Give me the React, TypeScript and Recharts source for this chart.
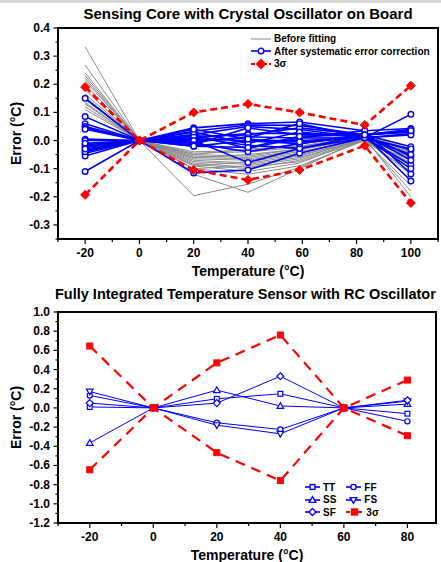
import { LineChart, Line, XAxis, YAxis, ReferenceArea, Label } from 'recharts';

const FONT = 'Arial, "Liberation Sans", Helvetica, sans-serif';
const BLUE = '#0000ff';
const RED = '#ff0000';
const GRAY = '#8c8c8c';

// ---- top panel: crystal oscillator ----
const topTemps = [-20, 0, 20, 40, 59, 83, 100];

const beforeFitting = [
  [0.333, 0, -0.12, -0.184, -0.1, 0.01, -0.2],
  [0.268, 0, -0.196, -0.155, -0.095, 0.005, -0.18],
  [0.24, 0, -0.1, -0.12, -0.09, 0.0, -0.16],
  [0.23, 0, -0.09, -0.11, -0.08, 0.01, -0.14],
  [0.221, 0, -0.085, -0.1, -0.07, 0.005, -0.12],
  [0.213, 0, -0.08, -0.095, -0.075, 0.0, -0.11],
  [0.2, 0, -0.1, -0.09, -0.065, 0.01, -0.1],
  [0.18, 0, -0.075, -0.085, -0.06, 0.005, -0.09],
  [0.165, 0, -0.07, -0.08, -0.055, 0.01, -0.08],
  [0.155, 0, -0.09, -0.075, -0.05, 0.0, -0.07],
  [0.145, 0, -0.065, -0.07, -0.045, 0.01, -0.065],
  [0.135, 0, -0.06, -0.065, -0.04, 0.005, -0.06],
  [0.13, 0, -0.055, -0.06, -0.035, 0.015, -0.05],
  [0.12, 0, -0.05, -0.055, -0.03, 0.01, -0.045],
  [0.11, 0, -0.06, -0.05, -0.03, 0.005, -0.04],
  [0.06, 0, -0.045, -0.04, -0.025, 0.01, -0.035],
  [0.05, 0, -0.04, -0.035, -0.02, 0.015, -0.03],
  [0.045, 0, -0.05, -0.03, -0.02, 0.01, -0.06],
];

const afterCorrection = [
  [0.15, 0, -0.115, -0.105, -0.045, 0.01, 0.093],
  [0.085, 0, 0.0, -0.078, -0.028, 0.02, -0.144],
  [0.06, 0, 0.045, 0.06, 0.066, 0.035, 0.043],
  [0.05, 0, 0.033, 0.055, 0.054, 0.02, 0.034],
  [0.045, 0, 0.021, 0.05, 0.039, 0.01, 0.025],
  [0.005, 0, 0.009, 0.025, 0.025, 0.02, -0.022],
  [-0.015, 0, -0.005, 0.013, 0.009, 0.01, -0.034],
  [-0.025, 0, -0.02, -0.001, -0.011, 0.02, -0.056],
  [-0.035, 0, 0.01, -0.017, -0.028, 0.01, -0.087],
  [-0.045, 0, 0.02, -0.028, 0.009, 0.035, -0.119],
  [-0.055, 0, -0.01, -0.04, -0.011, 0.02, 0.03],
  [-0.11, 0, 0.005, 0.0, 0.0, 0.01, -0.03],
  [0.0, 0, 0.015, 0.02, 0.045, 0.02, 0.04],
  [-0.02, 0, 0.0, 0.01, 0.06, 0.01, -0.05],
  [-0.04, 0, -0.015, 0.045, 0.02, 0.02, -0.07],
  [0.04, 0, 0.03, -0.01, 0.03, 0.01, 0.02],
  [-0.01, 0, 0.04, 0.005, -0.005, 0.01, -0.1],
  [-0.03, 0, -0.02, -0.025, 0.015, 0.02, 0.035],
];

const sigmaUpperTop = [0.19, 0, 0.1, 0.13, 0.1, 0.055, 0.195];
const sigmaLowerTop = [-0.193, 0, -0.105, -0.14, -0.105, -0.018, -0.222];

const topXTicks = [-30, -20, -10, 0, 10, 20, 30, 40, 50, 60, 70, 80, 90, 100, 110];
const topYTicks = [-0.35, -0.3, -0.25, -0.2, -0.15, -0.1, -0.05, 0, 0.05, 0.1, 0.15, 0.2, 0.25, 0.3, 0.35, 0.4];

// ---- bottom panel: RC oscillator ----
const bottomTemps = [-20, 0, 20, 40, 60, 80];
const tt = [0.01, 0, 0.095, 0.147, 0, -0.06];
const ff = [0.13, 0, -0.155, -0.225, 0, -0.14];
const ss = [-0.365, 0, 0.185, 0.02, 0, 0.04];
const fs = [0.17, 0, -0.18, -0.27, 0, 0.07];
const sf = [0.05, 0, 0.05, 0.33, 0, 0.08];
const sigmaUpperBottom = [0.645, 0, 0.47, 0.76, 0, 0.29];
const sigmaLowerBottom = [-0.645, 0, -0.467, -0.758, 0, -0.29];

const bottomXTicks = [-30, -20, -10, 0, 10, 20, 30, 40, 50, 60, 70, 80];
const bottomYTicks = [-1.2, -1.1, -1.0, -0.9, -0.8, -0.7, -0.6, -0.5, -0.4, -0.3, -0.2, -0.1, 0, 0.1, 0.2, 0.3, 0.4, 0.5, 0.6, 0.7, 0.8, 0.9, 1.0];

const topRows = topTemps.map((t, i) => {
  const row: Record<string, number> = { t, up: sigmaUpperTop[i], lo: sigmaLowerTop[i] };
  beforeFitting.forEach((s, k) => (row['g' + k] = s[i]));
  afterCorrection.forEach((s, k) => (row['b' + k] = s[i]));
  return row;
});

const bottomRows = bottomTemps.map((t, i) => ({
  t,
  tt: tt[i],
  ff: ff[i],
  ss: ss[i],
  fs: fs[i],
  sf: sf[i],
  up: sigmaUpperBottom[i],
  lo: sigmaLowerBottom[i],
}));

// ---- markers ----
type Kind = 'circle' | 'square' | 'up' | 'down' | 'diamond';

function Marker({ kind, cx, cy, s, stroke, fill, sw }: any) {
  if (kind === 'circle') return <circle cx={cx} cy={cy} r={s} fill={fill} stroke={stroke} strokeWidth={sw} />;
  if (kind === 'square')
    return <rect x={cx - s} y={cy - s} width={2 * s} height={2 * s} fill={fill} stroke={stroke} strokeWidth={sw} />;
  if (kind === 'up')
    return (
      <polygon
        points={`${cx},${cy - s * 1.1} ${cx - s * 1.1},${cy + s * 0.8} ${cx + s * 1.1},${cy + s * 0.8}`}
        fill={fill}
        stroke={stroke}
        strokeWidth={sw}
      />
    );
  if (kind === 'down')
    return (
      <polygon
        points={`${cx},${cy + s * 1.1} ${cx - s * 1.1},${cy - s * 0.8} ${cx + s * 1.1},${cy - s * 0.8}`}
        fill={fill}
        stroke={stroke}
        strokeWidth={sw}
      />
    );
  return (
    <polygon
      points={`${cx},${cy - s * 1.25} ${cx + s * 1.25},${cy} ${cx},${cy + s * 1.25} ${cx - s * 1.25},${cy}`}
      fill={fill}
      stroke={stroke}
      strokeWidth={sw}
    />
  );
}

const dotFn = (kind: Kind, s: number, stroke: string, fill: string, sw: number) => (p: any) => {
  if (p.cx == null || p.cy == null) return <g key={p.key ?? p.index} />;
  return (
    <g key={p.key ?? p.index}>
      <Marker kind={kind} cx={p.cx} cy={p.cy} s={s} stroke={stroke} fill={fill} sw={sw} />
    </g>
  );
};

// ---- ticks (major + minor) ----
const TS = 5;
const TM = 3;

const makeYTick = (isMajor: (v: number) => boolean) => (p: any) => {
  const v = p.payload.value;
  const major = isMajor(v);
  const ax = p.x + TS + TM;
  return (
    <g>
      <line x1={ax} x2={ax - (major ? 4.5 : 2.5)} y1={p.y} y2={p.y} stroke="#000" strokeWidth={1.2} />
      {major && (
        <text x={p.x} y={p.y} dy={4} textAnchor="end" fontSize={12} fontWeight="bold" fontFamily={FONT} fill="#000">
          {v.toFixed(1)}
        </text>
      )}
    </g>
  );
};

const makeXTick = (isMajor: (v: number) => boolean) => (p: any) => {
  const v = p.payload.value;
  const major = isMajor(v);
  const ay = p.y - TS - TM;
  return (
    <g>
      <line x1={p.x} x2={p.x} y1={ay} y2={ay + (major ? 5 : 3)} stroke="#000" strokeWidth={1.2} />
      {major && (
        <text x={p.x} y={p.y} dy={10} textAnchor="middle" fontSize={12} fontWeight="bold" fontFamily={FONT} fill="#000">
          {v}
        </text>
      )}
    </g>
  );
};

const topYMajor = (v: number) => Math.abs(v * 10 - Math.round(v * 10)) < 1e-6;
const bottomYMajor = (v: number) => Math.abs(v * 5 - Math.round(v * 5)) < 1e-6;
const xMajor = (v: number) => v % 20 === 0;

const axisTitle = { fontSize: 14, fontWeight: 'bold' as const, fontFamily: FONT, fill: '#000' };

function LegendRow({ kind, color, dashed, filled, text, w = 20, s = 3 }: any) {
  return (
    <div style={{ display: 'flex', alignItems: 'center', height: 12.6 }}>
      <svg width={w} height={12} style={{ display: 'block' }}>
        <line
          x1={0}
          x2={w}
          y1={6}
          y2={6}
          stroke={color}
          strokeWidth={dashed ? 2.2 : kind ? 1.6 : 1}
          strokeDasharray={dashed ? '4 2' : undefined}
        />
        {kind && <Marker kind={kind} cx={w / 2} cy={6} s={s} stroke={color} fill={filled ? color : '#fff'} sw={1.4} />}
      </svg>
      <span style={{ marginLeft: 3, fontSize: 10, fontWeight: 'bold', whiteSpace: 'nowrap' }}>{text}</span>
    </div>
  );
}

export default function App() {
  return (
    <div
      style={{
        position: 'absolute',
        left: 0,
        top: 0,
        width: 441,
        height: 562,
        overflow: 'hidden',
        background: '#fff',
        fontFamily: FONT,
        color: '#000',
      }}
    >
      <div style={{ position: 'absolute', left: 0, top: 0, width: 441, height: 3, background: '#d8d8d8' }} />

      <div
        style={{
          position: 'absolute',
          left: 0,
          top: 5,
          width: 496,
          textAlign: 'center',
          fontSize: 15,
          fontWeight: 'bold',
          lineHeight: '17px',
          whiteSpace: 'nowrap',
        }}
      >
        Sensing Core with Crystal Oscillator on Board
      </div>

      <div style={{ position: 'absolute', left: 0, top: 0 }}>
        <LineChart width={441} height={282} data={topRows} margin={{ top: 28, right: 3, left: 0, bottom: 0 }}>
          <XAxis
            dataKey="t"
            type="number"
            domain={[-30, 110]}
            ticks={topXTicks}
            interval={0}
            allowDataOverflow
            height={43}
            tickSize={TS}
            tickMargin={TM}
            tickLine={false}
            axisLine={{ stroke: '#000', strokeWidth: 2 }}
            tick={makeXTick(xMajor)}
          >
            <Label value="Temperature (°C)" position="insideBottom" offset={6} {...axisTitle} />
          </XAxis>
          <YAxis
            type="number"
            domain={[-0.35, 0.4]}
            ticks={topYTicks}
            interval={0}
            allowDataOverflow
            width={58}
            tickSize={TS}
            tickMargin={TM}
            tickLine={false}
            axisLine={{ stroke: '#000', strokeWidth: 2 }}
            tick={makeYTick(topYMajor)}
          >
            <Label value="Error (°C)" angle={-90} position="insideLeft" offset={16} style={{ textAnchor: 'middle' }} {...axisTitle} />
          </YAxis>
          <ReferenceArea x1={-30} x2={110} y1={-0.35} y2={0.4} fill="none" fillOpacity={0} stroke="#000" strokeWidth={2} />
          {beforeFitting.map((_, k) => (
            <Line
              key={'g' + k}
              dataKey={'g' + k}
              stroke={GRAY}
              strokeWidth={1}
              dot={false}
              isAnimationActive={false}
            />
          ))}
          {afterCorrection.map((_, k) => (
            <Line
              key={'b' + k}
              dataKey={'b' + k}
              stroke={BLUE}
              strokeWidth={1.6}
              dot={dotFn('circle', 2.8, BLUE, '#fff', 1.4)}
              isAnimationActive={false}
            />
          ))}
          <Line
            dataKey="up"
            stroke={RED}
            strokeWidth={2.6}
            strokeDasharray="7 4"
            dot={dotFn('diamond', 3.6, RED, RED, 1)}
            isAnimationActive={false}
          />
          <Line
            dataKey="lo"
            stroke={RED}
            strokeWidth={2.6}
            strokeDasharray="7 4"
            dot={dotFn('diamond', 3.6, RED, RED, 1)}
            isAnimationActive={false}
          />
        </LineChart>
      </div>

      <div style={{ position: 'absolute', left: 251, top: 32.5 }}>
        <LegendRow color={GRAY} text="Before fitting" />
        <LegendRow kind="circle" color={BLUE} text="After systematic error correction" s={2.8} />
        <LegendRow kind="diamond" color={RED} dashed filled text="3σ" s={3.6} />
      </div>

      <div
        style={{
          position: 'absolute',
          left: 55,
          top: 286,
          fontSize: 14.5,
          fontWeight: 'bold',
          lineHeight: '17px',
          whiteSpace: 'nowrap',
        }}
      >
        Fully Integrated Temperature Sensor with RC Oscillator
      </div>

      <div style={{ position: 'absolute', left: 0, top: 282 }}>
        <LineChart width={441} height={280} data={bottomRows} margin={{ top: 30, right: 5, left: 0, bottom: 0 }}>
          <XAxis
            dataKey="t"
            type="number"
            domain={[-30, 89]}
            ticks={bottomXTicks}
            interval={0}
            allowDataOverflow
            height={39}
            tickSize={TS}
            tickMargin={TM}
            tickLine={false}
            axisLine={{ stroke: '#000', strokeWidth: 2 }}
            tick={makeXTick(xMajor)}
          >
            <Label value="Temperature (°C)" position="insideBottom" offset={2} {...axisTitle} />
          </XAxis>
          <YAxis
            type="number"
            domain={[-1.2, 1.0]}
            ticks={bottomYTicks}
            interval={0}
            allowDataOverflow
            width={58}
            tickSize={TS}
            tickMargin={TM}
            tickLine={false}
            axisLine={{ stroke: '#000', strokeWidth: 2 }}
            tick={makeYTick(bottomYMajor)}
          >
            <Label value="Error (°C)" angle={-90} position="insideLeft" offset={16} style={{ textAnchor: 'middle' }} {...axisTitle} />
          </YAxis>
          <ReferenceArea x1={-30} x2={89} y1={-1.2} y2={1.0} fill="none" fillOpacity={0} stroke="#000" strokeWidth={2} />
          <Line dataKey="tt" stroke={BLUE} strokeWidth={1} dot={dotFn('square', 2.4, BLUE, '#fff', 1.2)} isAnimationActive={false} />
          <Line dataKey="ff" stroke={BLUE} strokeWidth={1} dot={dotFn('circle', 2.6, BLUE, '#fff', 1.2)} isAnimationActive={false} />
          <Line dataKey="ss" stroke={BLUE} strokeWidth={1} dot={dotFn('up', 3, BLUE, '#fff', 1.2)} isAnimationActive={false} />
          <Line dataKey="fs" stroke={BLUE} strokeWidth={1} dot={dotFn('down', 3, BLUE, '#fff', 1.2)} isAnimationActive={false} />
          <Line dataKey="sf" stroke={BLUE} strokeWidth={1} dot={dotFn('diamond', 2.8, BLUE, '#fff', 1.2)} isAnimationActive={false} />
          <Line
            dataKey="up"
            stroke={RED}
            strokeWidth={2.2}
            strokeDasharray="10 7"
            dot={dotFn('square', 3, RED, RED, 1)}
            isAnimationActive={false}
          />
          <Line
            dataKey="lo"
            stroke={RED}
            strokeWidth={2.2}
            strokeDasharray="10 7"
            dot={dotFn('square', 3, RED, RED, 1)}
            isAnimationActive={false}
          />
        </LineChart>
      </div>

      <div style={{ position: 'absolute', left: 305, top: 481, display: 'flex' }}>
        <div>
          <LegendRow kind="square" color={BLUE} text="TT" w={15} s={2.4} />
          <LegendRow kind="up" color={BLUE} text="SS" w={15} s={3} />
          <LegendRow kind="diamond" color={BLUE} text="SF" w={15} s={2.8} />
        </div>
        <div style={{ marginLeft: 10 }}>
          <LegendRow kind="circle" color={BLUE} text="FF" w={15} s={2.6} />
          <LegendRow kind="down" color={BLUE} text="FS" w={15} s={3} />
          <LegendRow kind="square" color={RED} dashed filled text="3σ" w={17} s={3} />
        </div>
      </div>
    </div>
  );
}
